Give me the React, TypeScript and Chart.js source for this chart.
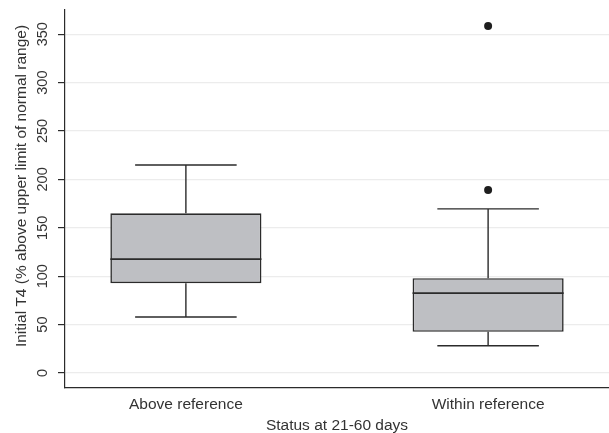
import React, { useEffect, useRef } from 'react';
import { Chart, registerables } from 'chart.js';

Chart.register(...registerables);

// ---- data ----
const categories = ['Above reference', 'Within reference'];
const positions = [1, 2];
const lowerWhisker = [57.8, 28.2];
const q1 = [92.8, 42.6];
const median = [117.6, 82.5];
const q3 = [165.0, 98.0];
const upperWhisker = [214.9, 169.5];
const outliers: number[][] = [[], [358.6, 189.1]];
const yTicks = [0, 50, 100, 150, 200, 250, 300, 350];
const xTitle = 'Status at 21-60 days';
const yTitle = 'Initial T4 (% above upper limit of normal range)';

// ---- styles ----
const FONT = '"Liberation Sans", Arial, Helvetica, sans-serif';
const TEXT = '#333333';
const LINE = '#2b2b2b';
const BOX_FILL = '#bebfc3';
const GRID = '#ececec';
const BOX_HALF = 0.25;
const CAP_HALF = 0.168;

export default function App() {
  const ref = useRef<HTMLCanvasElement | null>(null);

  useEffect(() => {
    document.body.style.margin = '0';
    const canvas = ref.current;
    if (!canvas) return;

    const whiskerData: any[] = [];
    const medianData: any[] = [];
    positions.forEach((c, i) => {
      const segs = [
        [{ x: c - CAP_HALF, y: upperWhisker[i] }, { x: c + CAP_HALF, y: upperWhisker[i] }],
        [{ x: c, y: upperWhisker[i] }, { x: c, y: q3[i] }],
        [{ x: c, y: q1[i] }, { x: c, y: lowerWhisker[i] }],
        [{ x: c - CAP_HALF, y: lowerWhisker[i] }, { x: c + CAP_HALF, y: lowerWhisker[i] }],
      ];
      segs.forEach((s) => {
        whiskerData.push(...s, { x: c, y: null });
      });
      medianData.push(
        { x: c - BOX_HALF, y: median[i] },
        { x: c + BOX_HALF, y: median[i] },
        { x: c, y: null }
      );
    });

    const outlierData: any[] = [];
    positions.forEach((c, i) => outliers[i].forEach((v) => outlierData.push({ x: c, y: v })));

    const textPlugin = {
      id: 'customText',
      afterDraw(chart: any) {
        const { ctx, chartArea, scales } = chart;
        const ys = scales.y;
        ctx.save();
        ctx.fillStyle = TEXT;
        ctx.textAlign = 'center';
        ctx.textBaseline = 'middle';
        ctx.font = `14.5px ${FONT}`;
        yTicks.forEach((v) => {
          const py = ys.getPixelForValue(v);
          ctx.save();
          ctx.translate(chartArea.left - 22, py);
          ctx.rotate(-Math.PI / 2);
          ctx.fillText(String(v), 0, 0);
          ctx.restore();
        });
        ctx.font = `15.5px ${FONT}`;
        ctx.save();
        ctx.translate(22, (chartArea.top + chartArea.bottom) / 2 - 13);
        ctx.rotate(-Math.PI / 2);
        ctx.fillText(yTitle, 0, 0);
        ctx.restore();
        ctx.fillText(xTitle, (chartArea.left + chartArea.right) / 2, chartArea.bottom + 38);
        ctx.restore();
      },
    };

    const chart = new Chart(canvas, {
      data: {
        datasets: [
          {
            type: 'line',
            data: medianData,
            borderColor: LINE,
            borderWidth: 1.6,
            pointRadius: 0,
            spanGaps: false,
            order: 0,
          } as any,
          {
            type: 'line',
            data: whiskerData,
            borderColor: LINE,
            borderWidth: 1.4,
            pointRadius: 0,
            spanGaps: false,
            order: 1,
          } as any,
          {
            type: 'scatter',
            data: outlierData,
            backgroundColor: '#1e1e1e',
            borderWidth: 0,
            pointRadius: 4,
            order: 0,
          } as any,
          {
            type: 'bar',
            data: positions.map((c, i) => ({ x: c, y: [q1[i], q3[i]] })),
            backgroundColor: BOX_FILL,
            borderColor: LINE,
            borderWidth: 1.6,
            borderSkipped: false,
            barPercentage: BOX_HALF * 2,
            categoryPercentage: 1,
            order: 2,
          } as any,
        ],
      },
      options: {
        animation: false,
        responsive: false,
        events: [],
        layout: { autoPadding: false, padding: { top: 10, right: 0, left: 0, bottom: 0 } },
        plugins: { legend: { display: false }, tooltip: { enabled: false } },
        scales: {
          x: {
            type: 'linear',
            offset: false,
            min: 0.6,
            max: 2.4,
            grid: { display: false, drawTicks: false, offset: false },
            border: { display: true, color: LINE, width: 1.2 },
            afterBuildTicks: (scale: any) => {
              scale.ticks = positions.map((p) => ({ value: p }));
            },
            afterFit: (scale: any) => {
              scale.height = 45;
              scale.paddingLeft = 0;
              scale.paddingRight = 0;
            },
            ticks: {
              padding: 7,
              color: TEXT,
              font: { family: FONT, size: 15.5 },
              callback: (v: any) => {
                const idx = positions.indexOf(Number(v));
                return idx >= 0 ? categories[idx] : '';
              },
            },
          },
          y: {
            type: 'linear',
            min: -15.5,
            max: 375,
            grid: { color: GRID, tickColor: LINE, tickLength: 7, lineWidth: 1.2 },
            border: { display: true, color: LINE, width: 1.2 },
            afterBuildTicks: (scale: any) => {
              scale.ticks = yTicks.map((v) => ({ value: v }));
            },
            afterFit: (scale: any) => {
              scale.width = 65;
              scale.paddingTop = 0;
              scale.paddingBottom = 0;
            },
            ticks: { display: false },
          },
        },
      },
      plugins: [textPlugin],
    });

    return () => chart.destroy();
  }, []);

  return (
    <div style={{ width: 609, height: 433 }}>
      <canvas ref={ref} width={609} height={433} style={{ display: 'block' }} />
    </div>
  );
}
